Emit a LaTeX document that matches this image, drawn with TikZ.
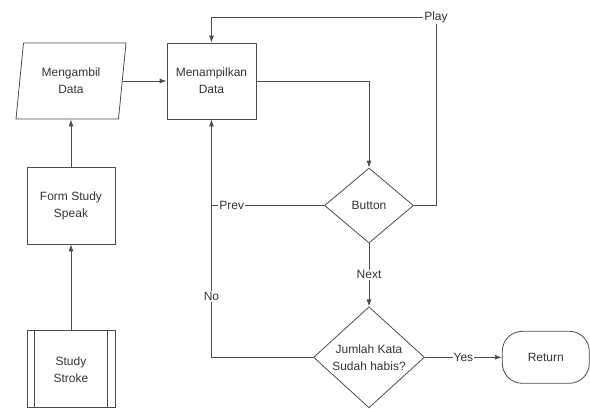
\documentclass[tikz,border=0pt]{standalone}
\usepackage{fontspec}
\setmainfont{Liberation Sans}
\usepackage{xcolor}
\usetikzlibrary{arrows.meta, positioning, shapes.geometric}

\begin{document}
\begin{tikzpicture}[x=1pt, y=-1pt,
    flow/.style={draw=black!70, line width=0.8pt, align=center, text=black!80,
                 font=\fontsize{12}{17}\selectfont},
    box/.style={flow, rectangle, minimum width=88pt, minimum height=77pt},
    io/.style={flow, trapezium, trapezium left angle=77, trapezium right angle=103,
               trapezium stretches body, minimum width=110pt, minimum height=76pt},
    decide/.style={flow, diamond, inner sep=0pt},
    term/.style={flow, rectangle, rounded corners=20pt, minimum width=87pt, minimum height=52pt},
    line/.style={draw=black!70, line width=0.8pt},
    arrow/.style={line, -{Latex[length=7pt, width=5pt]}},
    lbl/.style={fill=white, inner sep=1pt, text=black!80, font=\fontsize{12}{14}\selectfont}
]
\useasboundingbox (0,0) rectangle (590,408);

\node[io] (ambil) at (71,81) {Mengambil\\Data};
\node[box, minimum width=89pt, minimum height=76pt] (tampil) at (211.5,81) {Menampilkan\\Data};
\node[box] (form) at (71,205.5) {Form Study\\Speak};
\node[box, below=86pt of form] (stroke) {Study\\Stroke};
\draw[line] ([xshift=8pt]stroke.north west) -- ([xshift=8pt]stroke.south west);
\draw[line] ([xshift=-8pt]stroke.north east) -- ([xshift=-8pt]stroke.south east);

\node[decide, minimum width=89pt, minimum height=75pt] (button) at (369,205.5) {Button};
\node[decide, minimum width=111pt, minimum height=101pt, below=63pt of button] (jumlah) {Jumlah Kata\\Sudah habis?};
\node[term, right=77pt of jumlah] (return) {Return};
\coordinate (playcorner) at (436,17);

% alur utama
\draw[arrow] (stroke) -- (form);
\draw[arrow] (form.north) -- (form.north |- ambil.south);
\draw[arrow] (ambil.east) -- (ambil.east -| tampil.west);
\draw[arrow] (tampil.east) -| (button.north);
\draw[arrow] (button.south) -- node[lbl]{Next} (jumlah.north);
\draw[arrow] (jumlah.east) -- node[lbl]{Yes} (return.west);

% tombol
\draw[arrow] (button.east) -| (playcorner) node[lbl]{Play} -| (tampil.north);
\draw[arrow] (button.west) -- node[lbl, pos=0.82]{Prev} (button.west -| tampil.south) -- (tampil.south);
\draw[line] (jumlah.west) -- (jumlah.west -| tampil.south) -- node[lbl, pos=0.4]{No} (button.west -| tampil.south);
\end{tikzpicture}
\end{document}
